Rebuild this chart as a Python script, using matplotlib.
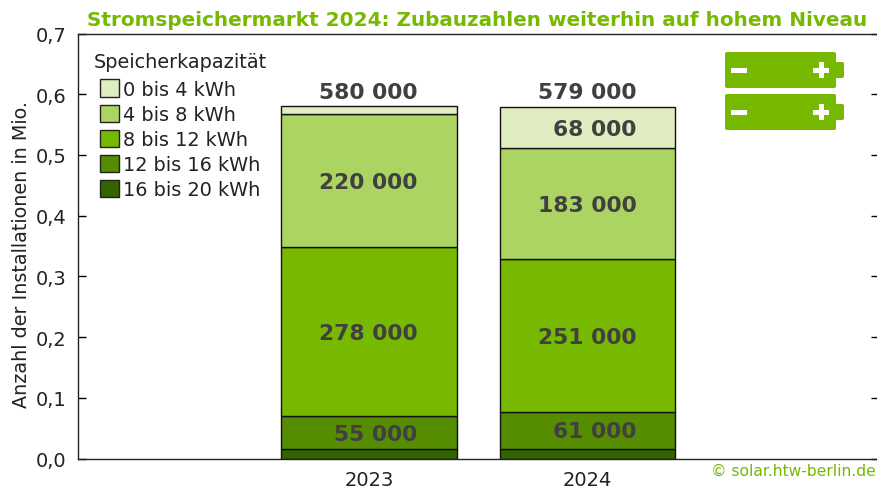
import matplotlib
matplotlib.use('Agg')
import matplotlib.pyplot as plt
from matplotlib.patches import FancyBboxPatch, Rectangle
from matplotlib.transforms import Affine2D

W, H = 877, 489

years = ['2023', '2024']
classes = ['16 bis 20 kWh', '12 bis 16 kWh', '8 bis 12 kWh', '4 bis 8 kWh', '0 bis 4 kWh']
colors = ['#336400', '#558c00', '#76b900', '#acd462', '#dfedc1']

# installations per capacity class, bottom to top
values_2023 = [15000, 55000, 278000, 220000, 12000]
values_2024 = [16000, 61000, 251000, 183000, 68000]
totals = [580000, 579000]
yticks = [0.0, 0.1, 0.2, 0.3, 0.4, 0.5, 0.6, 0.7]

green = '#76b900'
text_dark = '#404040'
text_black = '#222222'


def fmt(v):
    return f'{v:,}'.replace(',', ' ')


fig = plt.figure(figsize=(W / 100, H / 100), dpi=100)
# the right edge of the axes sits just outside the picture
ax = fig.add_axes([77.5 / W, 1 - 459.5 / H, (W + 2 - 77.5) / W, 425 / H])
ax.set_xlim(-1.334, 2.334)
ax.set_ylim(0, 0.7)

# stacked bars
series = [values_2023, values_2024]
for i in range(len(years)):
    bottom = 0
    for j, v in enumerate(series[i]):
        ax.bar(i, v / 1e6, bottom=bottom, width=0.803, color=colors[j],
               edgecolor='#111111', linewidth=1.0, zorder=2)
        # the thin segments carry no label
        if v >= 50000:
            ax.text(i + 0.221 + i * 0.004, bottom + v / 2e6 - 0.002, fmt(v), ha='right', va='center',
                    fontsize=15.7, fontweight='bold', color=text_dark, zorder=3)
        bottom += v / 1e6
    ax.text(i + 0.221 + i * 0.004, totals[i] / 1e6 + 0.008, fmt(totals[i]), ha='right', va='bottom',
            fontsize=15.7, fontweight='bold', color=text_dark)

ax.set_xticks([0, 1])
ax.set_xticklabels(years, fontsize=14, color=text_black)
ax.tick_params(axis='x', length=0, pad=8)
ax.set_yticks(yticks)
ax.set_yticklabels([f'{t:.1f}'.replace('.', ',') for t in yticks], fontsize=14, color=text_black)
ax.tick_params(axis='y', direction='in', length=6, width=1, pad=8, right=True)
ax.set_ylabel('Anzahl der Installationen in Mio.', fontsize=13.8, color=text_black)
ax.yaxis.set_label_coords(-46 / (W + 2 - 77.5), 0.482)
ax.spines['right'].set_visible(False)
for s in ['top', 'left', 'bottom']:
    ax.spines[s].set_linewidth(1)
    ax.spines[s].set_color('#222222')

# legend
handles = [Rectangle((0, 0), 1, 1, facecolor=colors[j], edgecolor='#222222', linewidth=1)
           for j in range(4, -1, -1)]
ax.legend(handles, classes[::-1], loc='upper left',
          bbox_to_anchor=((100 - 77.5) / (W + 2 - 77.5), 1 - 46 / 425), frameon=False,
          fontsize=13.9, borderpad=0, borderaxespad=0, handlelength=1.0, handleheight=1.0,
          handletextpad=0.2, labelspacing=0.3, labelcolor=text_black)

px = Affine2D().scale(1 / W, -1 / H).translate(0, 1) + fig.transFigure
fig.text(94, 62, 'Speicherkapazität', transform=px, fontsize=13.9, color=text_black, va='center')

# title and credit
fig.text(477.5, 20, 'Stromspeichermarkt 2024: Zubauzahlen weiterhin auf hohem Niveau',
         transform=px, ha='center', va='center', fontsize=14.4, fontweight='bold', color=green)
fig.text(876, 471, '© solar.htw-berlin.de', transform=px, ha='right', va='center',
         fontsize=11.15, color=green)

# battery icons
for top in [53, 95]:
    fig.add_artist(FancyBboxPatch((727, top + 2), 107, 32, boxstyle='round,pad=2,rounding_size=2',
                                  transform=px, facecolor=green, edgecolor='none'))
    fig.add_artist(FancyBboxPatch((836, top + 12), 6, 12, boxstyle='round,pad=2,rounding_size=2',
                                  transform=px, facecolor=green, edgecolor='none'))
    mid = top + 18
    fig.add_artist(Rectangle((731, mid - 2.5), 16, 5, transform=px, facecolor='white', edgecolor='none'))
    fig.add_artist(Rectangle((813, mid - 2.5), 16, 5, transform=px, facecolor='white', edgecolor='none'))
    fig.add_artist(Rectangle((818.5, mid - 8), 5, 16, transform=px, facecolor='white', edgecolor='none'))

fig.savefig('out.png', dpi=100)
